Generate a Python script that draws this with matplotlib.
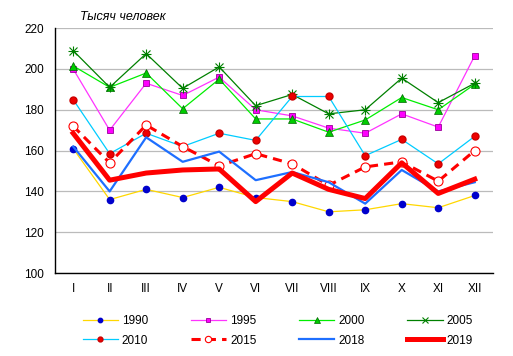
import matplotlib
matplotlib.use("Agg")
import matplotlib.pyplot as plt

plt.rcParams['font.family'] = ['Liberation Sans', 'DejaVu Sans']

months = ["I", "II", "III", "IV", "V", "VI", "VII", "VIII", "IX", "X", "XI", "XII"]
y1990 = [161, 136, 141, 137, 142, 137, 135, 130, 131, 134, 132, 138]
y1995 = [200, 170, 193, 187, 196, 180, 177, 171, 168.5, 178, 171.5, 206.5]
y2000 = [201.5, 191, 198, 180.5, 195, 175.5, 175.5, 169, 175, 186, 180, 192.5]
y2005 = [209, 191, 207.5, 190.5, 201, 182, 187.5, 178, 180, 195.5, 183.5, 193]
y2010 = [185, 158.5, 168.5, 162, 168.5, 165, 186.5, 186.5, 157.5, 165.5, 153.5, 167]
y2015 = [172, 154, 172.5, 162, 152.5, 158.5, 153.5, 143, 152, 154.5, 145, 160]
y2018 = [162, 140, 166.5, 154.5, 159.5, 145.5, 149.5, 144.5, 134, 150.5, 140, 144.5]
y2019 = [168.5, 145.5, 149, 150.5, 151, 135, 149, 141, 136.5, 154, 139, 146]

fig = plt.figure(figsize=(5.13, 3.56), dpi=100)
ax = fig.add_axes([0.107, 0.233, 0.854, 0.688])
x = range(len(months))

lines = {}
lines['1990'], = ax.plot(x, y1990, color='#FFD700', lw=0.9, marker='o', ms=4.5,
                         mfc='#0000CC', mec='#0000CC', label='1990')
lines['1995'], = ax.plot(x, y1995, color='#FF33FF', lw=0.9, marker='s', ms=5,
                         mfc='#FF00FF', mec='#990099', mew=0.6, label='1995')
lines['2000'], = ax.plot(x, y2000, color='#00EE00', lw=0.9, marker='^', ms=5.5,
                         mfc='#00CC00', mec='#006600', mew=0.5, label='2000')
lines['2005'], = ax.plot(x, y2005, color='#008000', lw=0.9, marker='x', ms=6,
                         mec='#008000', mew=0.8, label='2005')
ax.plot(x, y2005, color='none', marker='+', ms=7, mec='#008000', mew=0.8)
lines['2010'], = ax.plot(x, y2010, color='#00CCFF', lw=0.9, marker='o', ms=5,
                         mfc='#EE0000', mec='#CC0000', label='2010')
lines['2015'], = ax.plot(x, y2015, color='#FF0000', lw=2.2, ls=(0, (3, 2)),
                         marker='o', ms=6.5, mfc='white', mec='#FF0000', mew=0.8,
                         label='2015')
lines['2018'], = ax.plot(x, y2018, color='#1E6FFF', lw=1.6, label='2018')
lines['2019'], = ax.plot(x, y2019, color='#FF0000', lw=3.6, label='2019')

ax.set_xlim(-0.5, 11.5)
ax.set_ylim(100, 220)
ax.set_yticks(range(100, 221, 20))
ax.set_xticks(list(x))
ax.set_xticklabels(months)
ax.tick_params(axis='both', length=0, labelsize=8.5, colors='black')
ax.tick_params(axis='x', pad=7)
ax.tick_params(axis='y', pad=8)
ax.yaxis.grid(True, color='#BBBBBB', lw=0.9)
ax.set_axisbelow(True)
for s in ['top', 'right']:
    ax.spines[s].set_visible(False)
for s in ['left', 'bottom']:
    ax.spines[s].set_linewidth(1.0)
    ax.spines[s].set_color('black')

fig.text(0.156, 0.952, 'Тысяч человек', fontsize=9, style='italic', va='center')

order = ['1990', '2010', '1995', '2015', '2000', '2018', '2005', '2019']
fig.legend([lines[k] for k in order], order, ncol=4, frameon=False,
           loc='center left', bbox_to_anchor=(0.161, 0.071), fontsize=8.5,
           handlelength=3.0, columnspacing=3.6, handletextpad=0.33,
           labelspacing=0.65, markerscale=0.7, borderpad=0, borderaxespad=0)

fig.savefig('out.png', dpi=100)
